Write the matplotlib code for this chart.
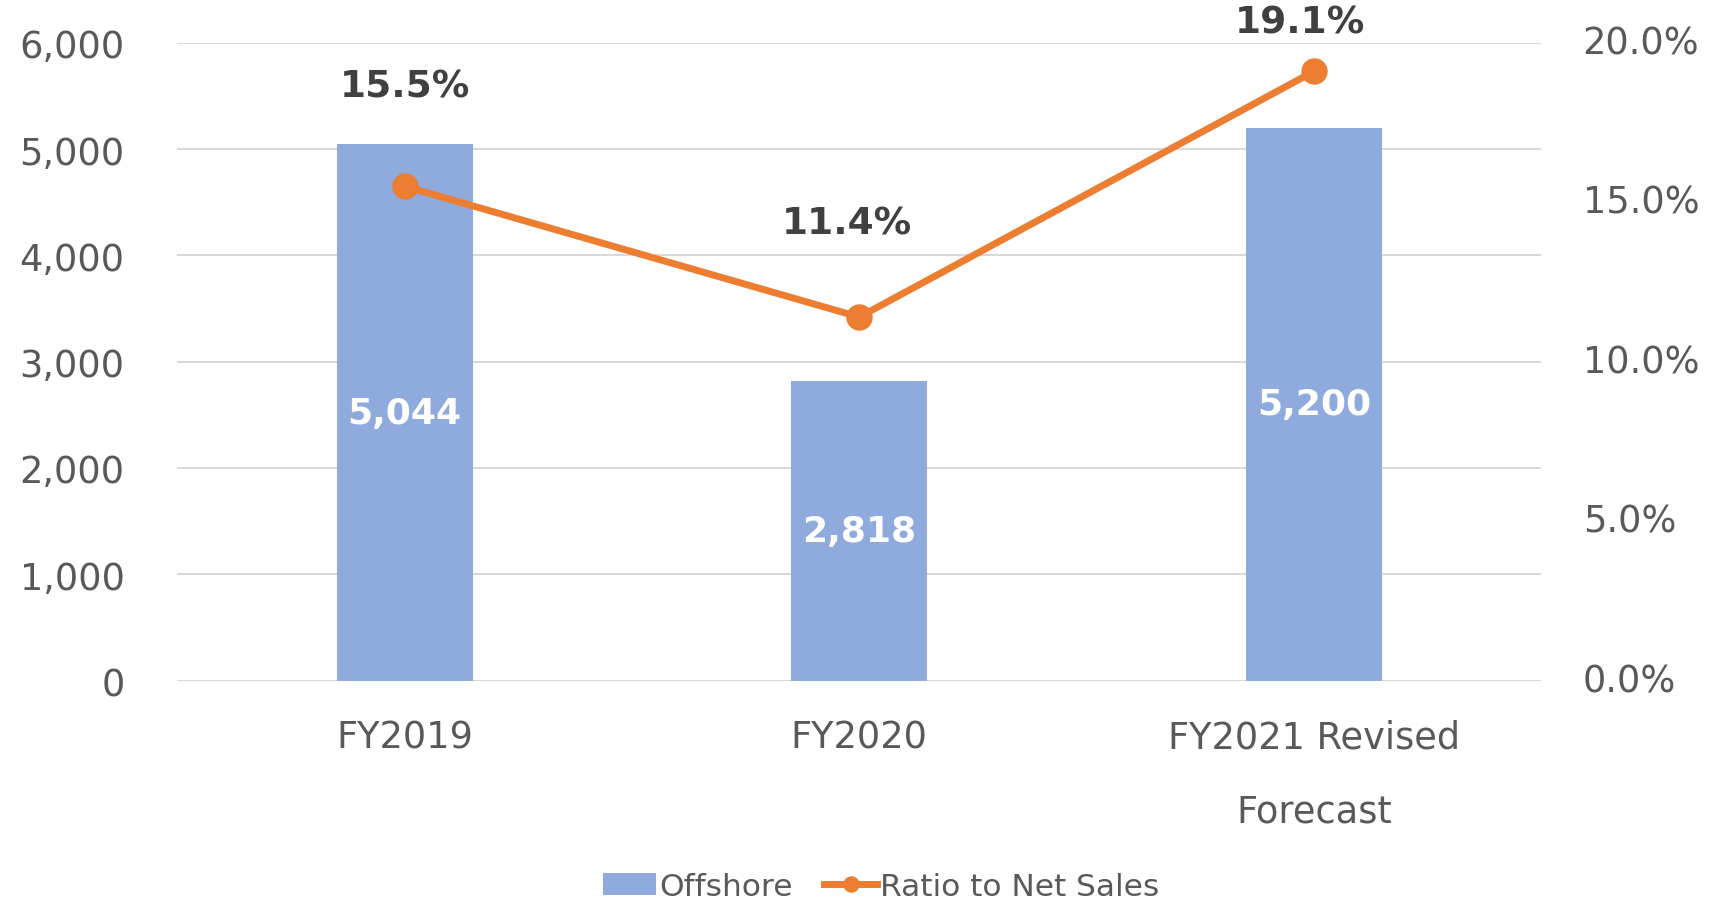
import matplotlib
matplotlib.use("Agg")
import matplotlib.pyplot as plt
from matplotlib.ticker import FuncFormatter
import matplotlib.transforms as mtransforms

categories = ["FY2019", "FY2020", "FY2021 Revised\nForecast"]
offshore = [5044, 2818, 5200]
ratio = [15.5, 11.4, 19.1]
left_ticks = [0, 1000, 2000, 3000, 4000, 5000, 6000]
right_ticks = [0, 5, 10, 15, 20]

BAR = "#8FAADC"
ORANGE = "#ED7D31"
GRID = "#D9D9D9"
TICK = "#595959"
LABEL = "#404040"

plt.rcParams['font.family'] = ['DejaVu Sans']

fig = plt.figure(figsize=(17.18, 9.03), dpi=100)
ax = fig.add_axes([0.1033, 0.2452, 0.897 - 0.1033, 0.9515 - 0.2452])
x = list(range(len(categories)))

bars = ax.bar(x, offshore, width=0.30, color=BAR, zorder=2, label="Offshore")
ax.set_xlim(-0.5, 2.5)
ax.set_ylim(0, 6000)
ax.set_yticks(left_ticks)
ax.yaxis.set_major_formatter(FuncFormatter(lambda v, p: f"{int(v):,}"))
ax.grid(axis='y', color=GRID, linewidth=1.5, zorder=0)
ax.set_axisbelow(True)
for s in ax.spines.values():
    s.set_visible(False)
ax.tick_params(axis='both', length=0, labelsize=26.5, colors=TICK)
ax.tick_params(axis='y', pad=38)
ax.tick_params(axis='x', pad=27)
ax.set_xticks(x)
ax.set_xticklabels(categories, linespacing=2.3)

for xi, v in zip(x, offshore):
    ax.text(xi, v / 2, f"{v:,}", ha='center', va='center', color='white',
            fontsize=26, fontweight='bold', zorder=4)

ax2 = ax.twinx()
ax2.set_ylim(0, 20)
ax2.set_yticks(right_ticks)
ax2.yaxis.set_major_formatter(FuncFormatter(lambda v, p: f"{v:.1f}%"))
for s in ax2.spines.values():
    s.set_visible(False)
ax2.tick_params(axis='y', length=0, labelsize=26.5, colors=TICK, pad=30)
shift = mtransforms.ScaledTranslation(0, 4 / 100, fig.dpi_scale_trans)
for lbl in ax2.get_yticklabels():
    lbl.set_transform(lbl.get_transform() + shift)
line, = ax2.plot(x, ratio, color=ORANGE, linewidth=5, marker='o', markersize=18,
                 zorder=5, label="Ratio to Net Sales")

offsets = [(0, 72), (-9, 67), (-10, 35)]
for xi, r, off in zip(x, ratio, offsets):
    ax2.annotate(f"{r:.1f}%", (xi, r), xytext=off, textcoords='offset points',
                 ha='center', va='center', fontsize=27, fontweight='bold',
                 color=LABEL, annotation_clip=False)

leg = fig.legend([bars, line], ["Offshore", "Ratio to Net Sales"], loc='center',
                 bbox_to_anchor=(0.513, 0.017), ncol=2, frameon=False,
                 fontsize=22.5, handlelength=1.7, handletextpad=0.1,
                 columnspacing=1.0, labelcolor=TICK, markerscale=0.6)

fig.savefig("out.png", dpi=100)
